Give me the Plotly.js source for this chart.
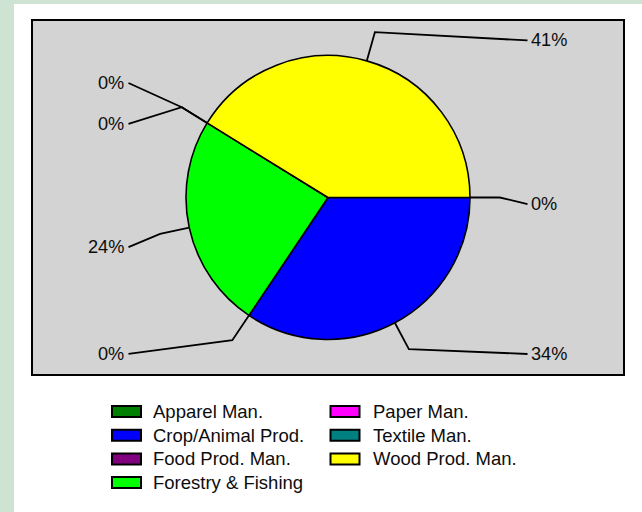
<!DOCTYPE html>
<html>
<head>
<meta charset="utf-8">
<script src="https://cdn.plot.ly/plotly-3.0.1.min.js"></script>
<style>
  html, body { margin: 0; padding: 0; width: 642px; height: 512px; background: #cee3d1; overflow: hidden; }
  #chart { position: absolute; left: 14px; top: 4px; width: 628px; height: 508px; background: #ffffff; }
</style>
</head>
<body>
<div id="chart"></div>
<script>
// ---- data ----
const categories = ['Apparel Man.', 'Crop/Animal Prod.', 'Food Prod. Man.', 'Forestry & Fishing', 'Paper Man.', 'Textile Man.', 'Wood Prod. Man.'];
const shares = [0, 34.4, 0, 24.4, 0, 0, 41.2];
const colors = ['#008000', '#0000ff', '#800080', '#00ff00', '#ff00ff', '#008080', '#ffff00'];

// ---- layout constants (page pixels / pie-radius units) ----
const PAGE_W = 642, PAGE_H = 512;
const DIV_L = 14, DIV_T = 4;
const PLOT = { x0: 33, x1: 623, y0: 21, y1: 374 };
const R = 142;                      // pie radius in px
const labelYs = [-0.046, -1.102, -1.102, -0.349, 0.518, 0.806, 1.106]; // label heights (radius units)
const labelX = 1.405;               // label line end (radius units)
const elbow = 1.21;

const PW = PLOT.x1 - PLOT.x0, PH = PLOT.y1 - PLOT.y0;
const FONT = 'Liberation Sans, Arial, sans-serif';

const pie = {
  type: 'pie',
  labels: categories,
  values: shares,
  sort: false,
  direction: 'clockwise',
  rotation: 90,
  textinfo: 'none',
  hoverinfo: 'none',
  showlegend: false,
  marker: { colors: colors, line: { color: '#000000', width: 1.6 } },
  domain: { x: [0.5 - R / PW, 0.5 + R / PW], y: [0.5 - R / PH, 0.5 + R / PH] }
};

// leader lines computed from the shares
const total = shares.reduce((a, b) => a + b, 0);
const lx = [], ly = [], annotations = [];
let cum = 0;
shares.forEach((v, i) => {
  const th = -2 * Math.PI * (cum + v / 2) / total;
  cum += v;
  const c = Math.cos(th), s = Math.sin(th);
  const side = c >= -1e-9 ? 1 : -1;
  lx.push(c, elbow * c, side * labelX, null);
  ly.push(s, elbow * s, labelYs[i], null);
  annotations.push({
    xref: 'x', yref: 'y', x: side * labelX, y: labelYs[i],
    text: Math.round(v) + '%', showarrow: false,
    xanchor: side > 0 ? 'left' : 'right', yanchor: 'middle',
    xshift: side > 0 ? 1 : -2,
    font: { family: FONT, size: 18.2, color: '#0d0d0d' }
  });
});
const leaders = {
  type: 'scatter', mode: 'lines', x: lx, y: ly,
  line: { color: '#000000', width: 1.8 },
  hoverinfo: 'skip', showlegend: false, cliponaxis: false
};

// manual two-column legend
const shapes = [];
const rowY = [411.5, 435.2, 458.9, 482.6];
const boxX = [[112, 141], [330.5, 359.5]];
const textX = [151, 370.5];
const px2x = p => (p - PLOT.x0) / PW;
const py2y = p => (PLOT.y1 - p) / PH;
categories.forEach((name, i) => {
  const col = i < 4 ? 0 : 1, row = i < 4 ? i : i - 4;
  const yc = rowY[row];
  shapes.push({
    type: 'rect', xref: 'paper', yref: 'paper',
    x0: px2x(boxX[col][0]), x1: px2x(boxX[col][1]),
    y0: py2y(yc + 5.5), y1: py2y(yc - 5.5),
    fillcolor: colors[i], line: { color: '#000000', width: 2 }
  });
  annotations.push({
    xref: 'paper', yref: 'paper', x: px2x(textX[col]), y: py2y(yc),
    text: name, showarrow: false, xanchor: 'left', yanchor: 'middle',
    font: { family: FONT, size: 18.5, color: '#0d0d0d' }
  });
});

const axisCommon = {
  showgrid: false, zeroline: false, showticklabels: false, ticks: '',
  showline: true, mirror: true, linecolor: '#000000', linewidth: 2, fixedrange: true
};
const layout = {
  width: PAGE_W - DIV_L, height: PAGE_H - DIV_T,
  margin: { l: PLOT.x0 - DIV_L, r: PAGE_W - PLOT.x1, t: PLOT.y0 - DIV_T, b: PAGE_H - PLOT.y1, pad: 0 },
  paper_bgcolor: '#ffffff', plot_bgcolor: '#d3d3d3',
  xaxis: Object.assign({ range: [-PW / 2 / R, PW / 2 / R] }, axisCommon),
  yaxis: Object.assign({ range: [-PH / 2 / R, PH / 2 / R] }, axisCommon),
  showlegend: false,
  shapes: shapes,
  annotations: annotations,
  font: { family: FONT }
};
Plotly.newPlot('chart', [pie, leaders], layout, { staticPlot: true, displayModeBar: false });
</script>
</body>
</html>
